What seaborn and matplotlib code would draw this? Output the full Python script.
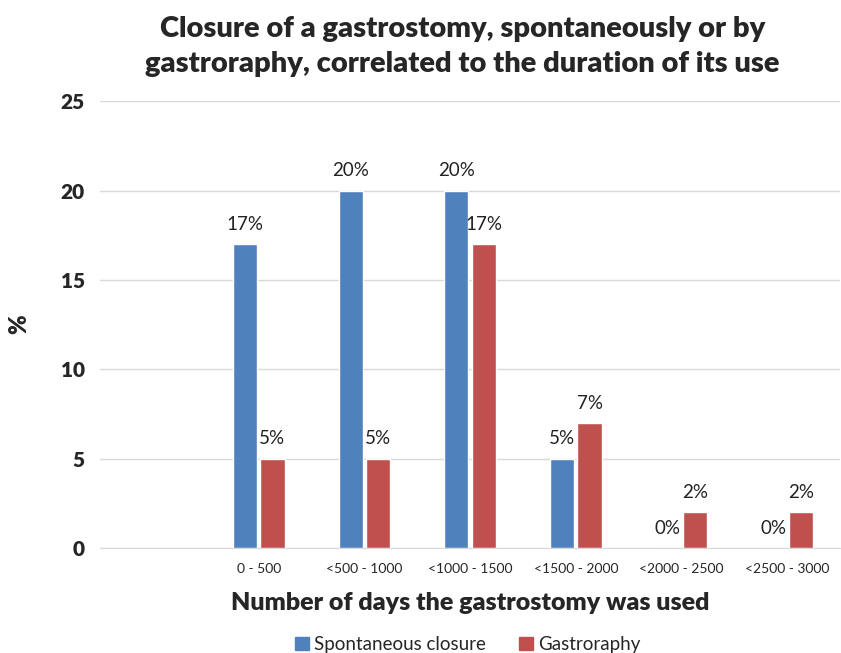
import pandas as pd
import seaborn as sns
import matplotlib.pyplot as plt

# Chart data
categories = ["0 - 500", "<500 - 1000", "<1000 - 1500", "<1500 - 2000",
              "<2000 - 2500", "<2500 - 3000"]
spontaneous = [17, 20, 20, 5, 0, 0]
gastroraphy = [5, 5, 17, 7, 2, 2]
series_names = ["Spontaneous closure", "Gastroraphy"]
palette = ["#4F81BD", "#C0504D"]

sns.set_style("white")
plt.rcParams["font.family"] = ["Lato", "DejaVu Sans"]

df = pd.DataFrame({
    "range": categories * 2,
    "pct": spontaneous + gastroraphy,
    "series": [series_names[0]] * len(categories) + [series_names[1]] * len(categories),
})

fig = plt.figure(figsize=(8.41, 6.53), dpi=100)
ax = fig.add_axes([0.119, 0.161, 0.88, 0.684])

# leading empty slot as in the original chart
order = [""] + categories
sns.barplot(data=df, x="range", y="pct", hue="series", order=order,
            hue_order=series_names, palette=palette, width=0.52, gap=0.12,
            saturation=1, ax=ax, legend=False)

for cont in ax.containers:
    ax.bar_label(cont, fmt="%.0f%%", padding=8, fontsize=13.5, color="#222222")

ax.set_ylim(0, 25)
ax.set_yticks([0, 5, 10, 15, 20, 25])
ax.set_xlim(-0.5, len(order) - 0.5)
ax.yaxis.grid(True, color="#D9D9D9", linewidth=1)
ax.set_axisbelow(True)
for s in ["top", "right", "left"]:
    ax.spines[s].set_visible(False)
ax.spines["bottom"].set_color("#D9D9D9")
ax.tick_params(axis="both", length=0)
ax.tick_params(axis="x", labelsize=10, pad=11)
ax.tick_params(axis="y", labelsize=15, pad=11)
for t in ax.get_yticklabels():
    t.set_fontweight("heavy")

ax.set_xlabel("Number of days the gastrostomy was used", fontsize=18,
              fontweight="heavy", labelpad=12)
ax.set_ylabel("%", fontsize=17, fontweight="heavy", labelpad=22)

fig.suptitle("Closure of a gastrostomy, spontaneously or by\n"
             "gastroraphy, correlated to the duration of its use",
             x=0.55, y=0.975, fontsize=21, fontweight="heavy", linespacing=1.4)

handles = [plt.Rectangle((0, 0), 1, 1, color=c) for c in palette]
fig.legend(handles, series_names, loc="lower center", bbox_to_anchor=(0.556, -0.026),
           ncol=2, frameon=False, fontsize=13.5, handlelength=0.75, handleheight=0.75,
           handletextpad=0.25, columnspacing=1.8)

fig.savefig("out.png", dpi=100)
